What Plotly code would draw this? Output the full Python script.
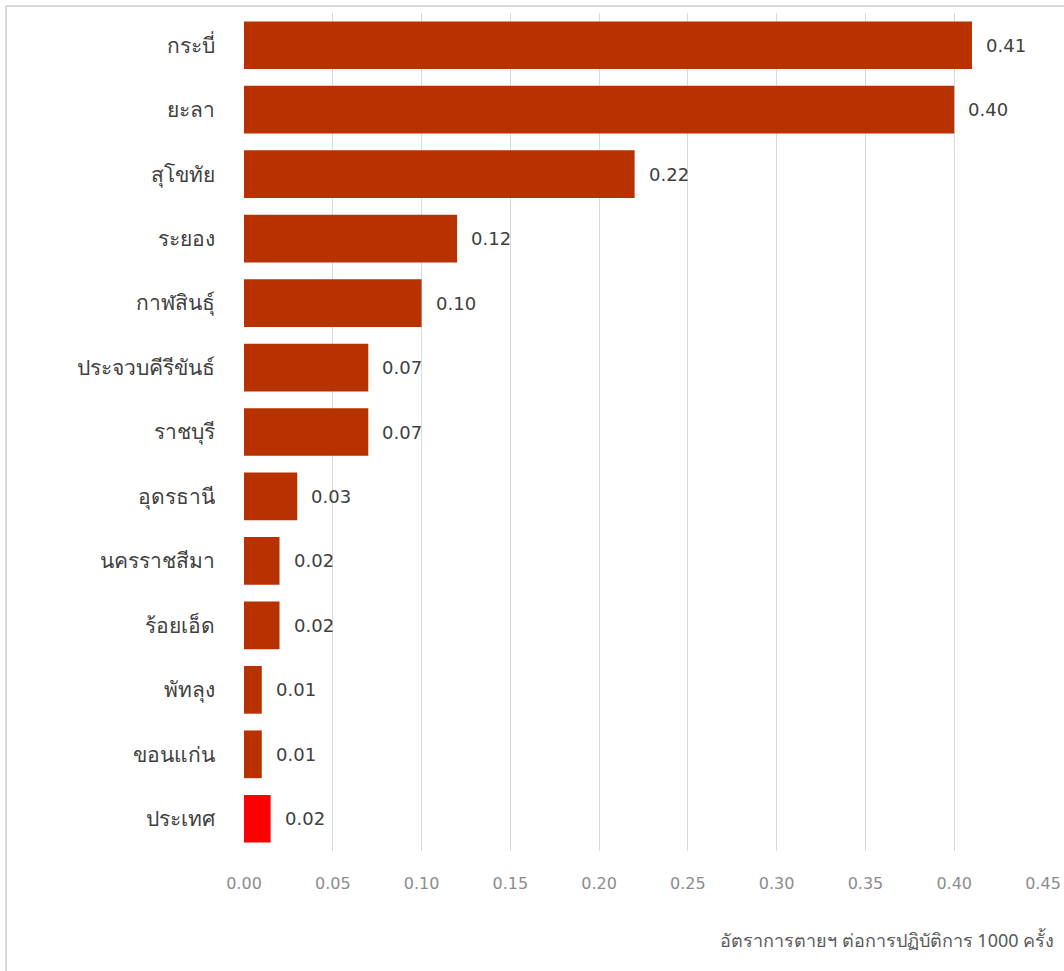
import plotly.graph_objects as go

provinces = ["กระบี่", "ยะลา", "สุโขทัย", "ระยอง", "กาฬสินธุ์", "ประจวบคีรีขันธ์",
             "ราชบุรี", "อุดรธานี", "นครราชสีมา", "ร้อยเอ็ด", "พัทลุง", "ขอนแก่น", "ประเทศ"]
rates = [0.41, 0.40, 0.22, 0.12, 0.10, 0.07, 0.07, 0.03, 0.02, 0.02, 0.01, 0.01, 0.015]
rate_labels = ["0.41", "0.40", "0.22", "0.12", "0.10", "0.07", "0.07", "0.03",
               "0.02", "0.02", "0.01", "0.01", "0.02"]
x_ticks = [0, 0.05, 0.10, 0.15, 0.20, 0.25, 0.30, 0.35, 0.40, 0.45]
x_title = "อัตราการตายฯ ต่อการปฏิบัติการ 1000 ครั้ง"

colors = ["#B83200"] * (len(provinces) - 1) + ["#FF0000"]

fig = go.Figure(go.Bar(
    x=rates, y=provinces, orientation="h",
    marker=dict(color=colors, line=dict(width=0)),
    hoverinfo="x+y",
))

for p, v, t in zip(provinces, rates, rate_labels):
    fig.add_annotation(x=v, y=p, text=t, showarrow=False, xanchor="left",
                       xshift=12, font=dict(family="DejaVu Sans", size=18, color="#404040"))

L, R, T, B = 244, 21, 13, 120
W, H = 1064, 971
pw, ph = W - L - R, H - T - B

def px_x(px):
    return (px - L) / pw

def px_y(py):
    return (H - B - py) / ph

fig.add_annotation(xref="paper", yref="paper", x=px_x(1056), y=px_y(940),
                   xanchor="right", yanchor="middle", showarrow=False,
                   text=x_title, font=dict(size=18, color="#595959"))

# chart outer border (top and left visible)
fig.add_shape(type="line", xref="paper", yref="paper", x0=px_x(6), x1=px_x(1070),
              y0=px_y(6), y1=px_y(6), line=dict(color="#D9D9D9", width=2))
fig.add_shape(type="line", xref="paper", yref="paper", x0=px_x(6), x1=px_x(6),
              y0=px_y(6), y1=px_y(980), line=dict(color="#D9D9D9", width=2))

fig.update_layout(
    width=W, height=H,
    margin=dict(l=L, r=R, t=T, b=B, autoexpand=False),
    paper_bgcolor="white", plot_bgcolor="white",
    bargap=0.26, showlegend=False,
    font=dict(family="Noto Sans, sans-serif", color="#404040"),
    xaxis=dict(range=[0, 0.45], tickvals=x_ticks, tickformat=".2f",
               showgrid=True, gridcolor="#D9D9D9", gridwidth=1,
               zeroline=False, showline=False, automargin=False,
               tickfont=dict(family="DejaVu Sans", size=16, color="#8C8C8C"), ticks="",
               ticklabelstandoff=21),
    yaxis=dict(categoryorder="array", categoryarray=provinces, autorange="reversed",
               showgrid=False, zeroline=False, showline=False, ticks="", automargin=False,
               tickfont=dict(size=21, color="#404040"), ticklabelstandoff=28),
)

fig.write_html("out.html")
